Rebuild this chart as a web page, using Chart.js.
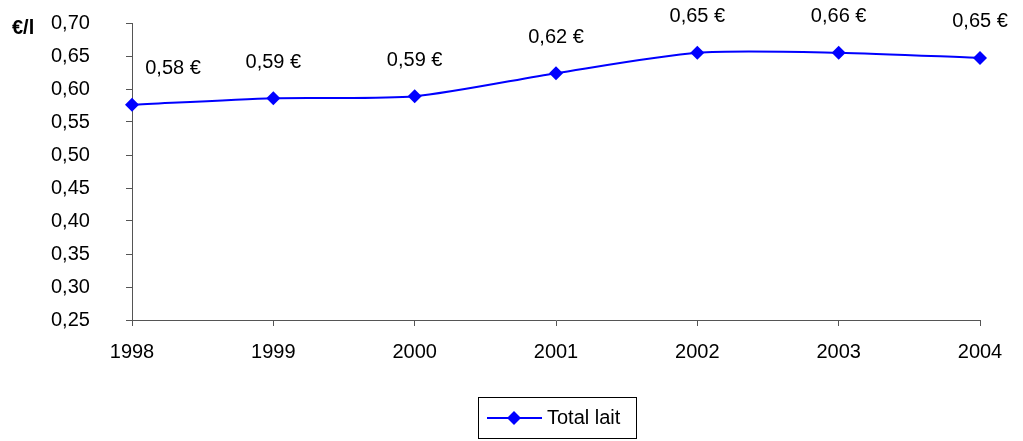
<!DOCTYPE html>
<html>
<head>
<meta charset="utf-8">
<script src="https://cdn.jsdelivr.net/npm/chart.js@4/dist/chart.umd.min.js"></script>
<style>
  html, body { margin: 0; padding: 0; background: #fff; }
  #wrap { width: 1023px; height: 441px; }
</style>
</head>
<body>
<div id="wrap"><canvas id="chart" width="1023" height="441"></canvas></div>
<script>
var years = ["1998", "1999", "2000", "2001", "2002", "2003", "2004"];
var prices = [0.576, 0.586, 0.589, 0.624, 0.655, 0.655, 0.647];
var priceLabels = ["0,58 €", "0,59 €", "0,59 €", "0,62 €", "0,65 €", "0,66 €", "0,65 €"];
var seriesName = "Total lait";
var unitLabel = "€/l";

var FONT = "'Liberation Sans', Arial, sans-serif";
var BLUE = "#0000ff";

// labels above points + unit + boxed legend, done by hand like Excel
var extras = {
    id: "extras",
    afterDatasetsDraw: function (chart) {
        var ctx = chart.ctx;
        var meta = chart.getDatasetMeta(0);
        ctx.save();
        ctx.font = "20px " + FONT;
        ctx.fillStyle = "#000";
        ctx.textAlign = "center";
        ctx.textBaseline = "middle";
        for (var i = 0; i < meta.data.length; i++) {
            var p = meta.data[i];
            var dx = (i == 0) ? 41 : 0;
            ctx.fillText(priceLabels[i], p.x + dx, p.y - 36);
        }

        ctx.font = "bold 20px " + FONT;
        ctx.textAlign = "left";
        ctx.fillText(unitLabel, 12, 28);

        // legend box
        var bx = 478, by = 397, bw = 158, bh = 41;
        ctx.strokeStyle = "#000";
        ctx.lineWidth = 1;
        ctx.strokeRect(bx + 0.5, by + 0.5, bw, bh);
        var ly = by + bh / 2 + 0.5;
        ctx.strokeStyle = BLUE;
        ctx.lineWidth = 2;
        ctx.beginPath();
        ctx.moveTo(bx + 9, ly);
        ctx.lineTo(bx + 64, ly);
        ctx.stroke();
        ctx.fillStyle = BLUE;
        ctx.beginPath();
        var cx = bx + 36;
        ctx.moveTo(cx, ly - 7);
        ctx.lineTo(cx + 7, ly);
        ctx.lineTo(cx, ly + 7);
        ctx.lineTo(cx - 7, ly);
        ctx.closePath();
        ctx.fill();
        ctx.fillStyle = "#000";
        ctx.font = "20px " + FONT;
        ctx.fillText(seriesName, bx + 69, ly);
        ctx.restore();
    }
};

new Chart(document.getElementById("chart"), {
    type: "line",
    data: {
        labels: years,
        datasets: [{
            label: seriesName,
            data: prices,
            borderColor: BLUE,
            backgroundColor: BLUE,
            borderWidth: 2,
            tension: 0.25,
            pointStyle: "rectRot",
            pointRadius: 7,
            pointHoverRadius: 7,
            pointBackgroundColor: BLUE,
            pointBorderColor: BLUE,
            pointBorderWidth: 0
        }]
    },
    options: {
        responsive: false,
        animation: false,
        events: [],
        layout: { padding: { top: 23, right: 43, bottom: 81, left: 51 } },
        plugins: {
            legend: { display: false },
            tooltip: { enabled: false }
        },
        scales: {
            x: {
                offset: false,
                grid: { display: true, drawOnChartArea: false, drawTicks: true, tickLength: 6, color: "#555" },
                border: { display: true, color: "#555", width: 1 },
                ticks: { color: "#000", font: { family: FONT, size: 20 }, padding: 14, maxRotation: 0 },
                afterFit: function (scale) { scale.height = 40; }
            },
            y: {
                min: 0.25,
                max: 0.70,
                grid: { display: true, drawOnChartArea: false, drawTicks: true, tickLength: 6, color: "#555" },
                border: { display: true, color: "#555", width: 1 },
                ticks: {
                    stepSize: 0.05,
                    color: "#000",
                    font: { family: FONT, size: 20 },
                    padding: 0,
                    crossAlign: "far",
                    callback: function (v) { return v.toFixed(2).replace(".", ","); }
                },
                afterFit: function (scale) { scale.width = 81; }
            }
        }
    },
    plugins: [extras]
});
</script>
</body>
</html>
